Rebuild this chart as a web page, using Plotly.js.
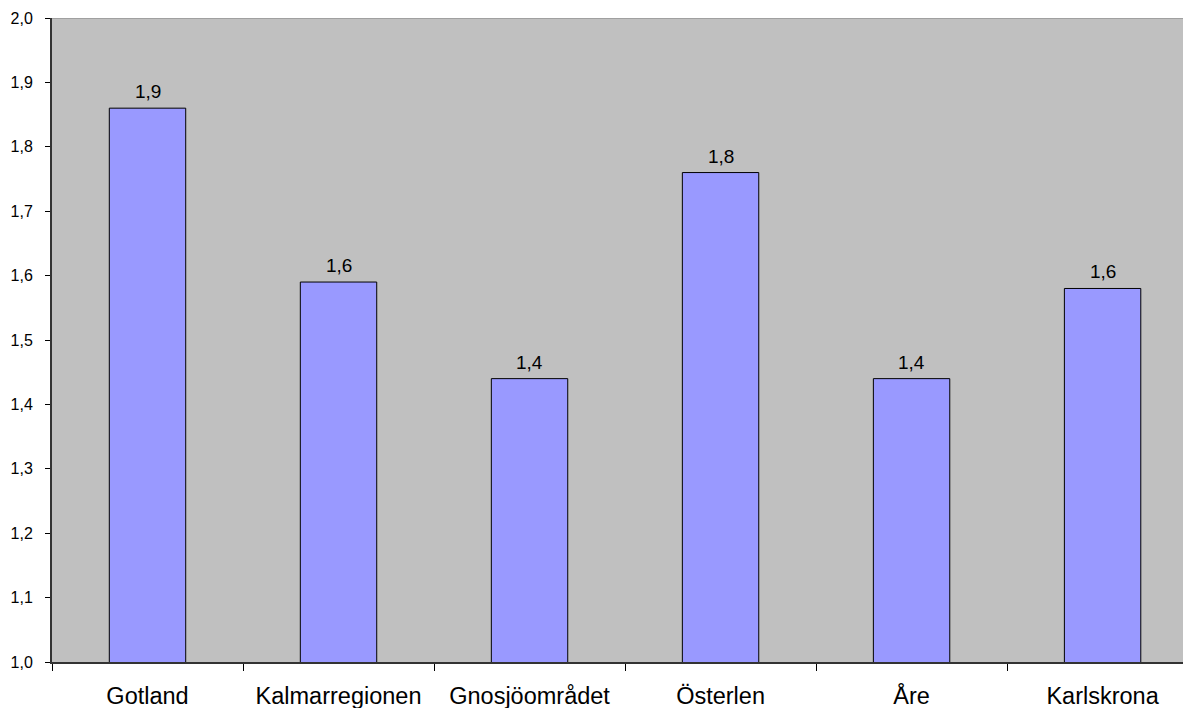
<!DOCTYPE html>
<html><head><meta charset="utf-8">
<script src="https://cdn.plot.ly/plotly-3.0.1.min.js"></script>
<style>body{margin:0;background:#fff}#c{width:1183px;height:708px}</style>
</head><body><div id="c"></div>
<script>
const categories = ["Gotland", "Kalmarregionen", "Gnosjöområdet", "Österlen", "Åre", "Karlskrona"];
const values = [1.86, 1.59, 1.44, 1.76, 1.44, 1.58];
const labels = values.map(v => v.toFixed(1).replace('.', ','));
const yTicks = [1.0, 1.1, 1.2, 1.3, 1.4, 1.5, 1.6, 1.7, 1.8, 1.9, 2.0];

const annotations = categories.map((c, i) => ({
  x: c, y: values[i], xref: 'x', yref: 'y', text: labels[i], showarrow: false,
  yanchor: 'bottom', yshift: 4,
  font: {family: 'Liberation Sans, Arial, sans-serif', size: 19, color: '#000'}
}));

Plotly.newPlot('c', [{
  type: 'bar', x: categories, y: values, base: 0,
  marker: {color: '#9999ff', line: {color: '#000', width: 1}},
  width: 0.4, hoverinfo: 'none'
}], {
  width: 1183, height: 708,
  margin: {l: 52, r: 0, t: 18, b: 46},
  paper_bgcolor: '#fff', plot_bgcolor: '#c0c0c0',
  separators: ',.',
  showlegend: false,
  font: {family: 'Liberation Sans, Arial, sans-serif', color: '#000'},
  xaxis: {type: 'category', range: [-0.5, 5.421], tickson: 'boundaries',
    ticks: 'outside', ticklen: 7, tickcolor: '#000', showline: true, linecolor: '#333', linewidth: 2,
    showgrid: false, tickfont: {size: 23.5}, ticklabelstandoff: 12},
  yaxis: {range: [1.0, 2.0], tickvals: yTicks, tickformat: '.1f', ticks: 'outside', ticklen: 5,
    tickcolor: '#000', showline: true, linecolor: '#333', linewidth: 2, showgrid: false,
    zeroline: false, tickfont: {size: 16}, ticklabelstandoff: 9},
  annotations: annotations,
  shapes: [{type: 'line', xref: 'paper', yref: 'y', x0: 0, x1: 1, y0: 2, y1: 2,
    line: {color: '#a0a0a0', width: 2}}]
}, {displayModeBar: false, staticPlot: true});
</script></body></html>
